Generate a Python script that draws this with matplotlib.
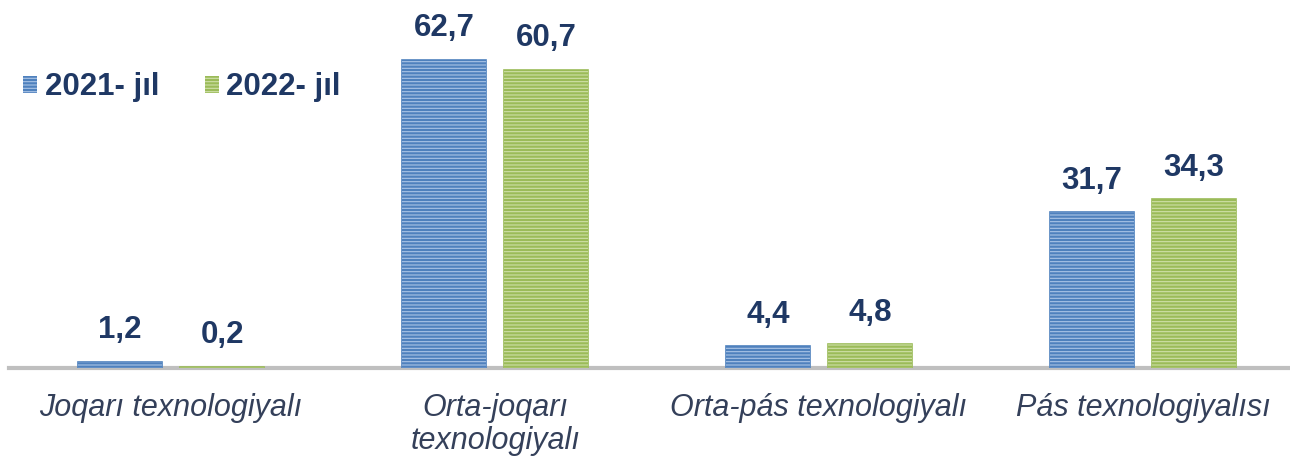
import numpy as np
import matplotlib.pyplot as plt
from matplotlib.patches import Patch

# chart data
categories = ["Joqarı texnologiyalı", "Orta-joqarı\ntexnologiyalı",
              "Orta-pás texnologiyalı", "Pás texnologiyalısı"]
series_names = ["2021- jıl", "2022- jıl"]
values_2021 = [1.2, 62.7, 4.4, 31.7]
values_2022 = [0.2, 60.7, 4.8, 34.3]

colors = ["#4F81BD", "#9BBB59"]
hatch_colors = ["#A9C4E6", "#CFE0A8"]
label_color = "#1F3864"

plt.rcParams['font.family'] = ['Liberation Sans', 'DejaVu Sans']
plt.rcParams['hatch.linewidth'] = 0.8

fig = plt.figure(figsize=(12.9, 4.57), dpi=100)
# one category = 324 px wide, baseline at 368 px from top
ax = fig.add_axes([9 / 1290, 89 / 457, 1296 / 1290, 368 / 457])

x = np.arange(len(categories))
offset = 0.315
width = 0.26

for i, (vals, col, hcol) in enumerate(zip([values_2021, values_2022], colors, hatch_colors)):
    pos = x + (i - 0.5) * offset
    ax.bar(pos, vals, width, color=col, edgecolor=col, linewidth=1.2, zorder=5)
    plt.rcParams['hatch.color'] = hcol
    ax.bar(pos, vals, width, facecolor="none", edgecolor=hcol, hatch="-----",
           linewidth=0, zorder=6)
    for p, v in zip(pos, vals):
        ax.text(p, v + 3.4, f"{v:.1f}".replace(".", ","), ha="center", va="bottom",
                fontsize=22.5, fontweight="bold", color=label_color)

ax.set_xlim(-0.5, 3.5)
ax.set_ylim(0, 74.9)
ax.set_yticks([])
ax.set_xticks(x)
ax.set_xticklabels(categories, fontsize=22, style="italic", color="#34405A",
                   linespacing=1.15)
ax.tick_params(axis="x", length=0, pad=18)
for s in ["top", "right", "left"]:
    ax.spines[s].set_visible(False)
ax.spines["bottom"].set_color("#BFBFBF")
ax.spines["bottom"].set_linewidth(3)
ax.spines["bottom"].set_zorder(4)

handles = [Patch(facecolor=c, edgecolor=h, hatch="-----", linewidth=0)
           for c, h in zip(colors, hatch_colors)]
leg = ax.legend(handles, series_names, loc="upper left", bbox_to_anchor=(-0.011, 0.88),
                ncol=2, frameon=False, handlelength=0.45, handleheight=0.45,
                handletextpad=0.25, columnspacing=1.45,
                prop={"size": 22.5, "weight": "bold"})
for t in leg.get_texts():
    t.set_color(label_color)

fig.savefig("out.png", dpi=100)
